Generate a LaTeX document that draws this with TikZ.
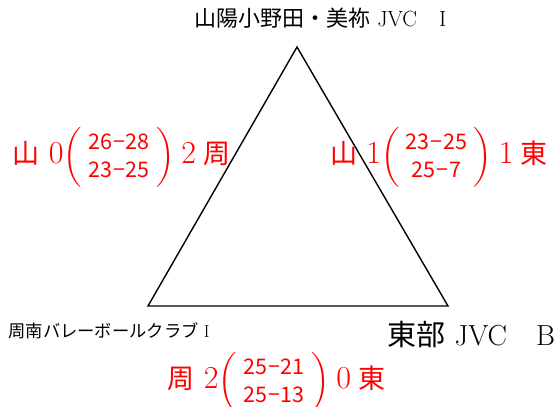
\documentclass[tikz,border=0pt]{standalone}
\usepackage{amsmath}
\usepackage{fontspec}
\newfontfamily\cjk{Noto Sans CJK JP}
\definecolor{scorered}{RGB}{255,0,0}
\tikzset{
  team/.style={inner sep=0pt, black},
  score/.style={inner sep=0pt, text=scorered},
  edge/.style={line width=1.4pt, line join=miter}
}
\newcommand{\dsh}{\kern1pt−\kern1pt}
\newcommand{\dg}[1]{{\fontsize{32}{32}\selectfont #1}}
\newcommand{\sets}[2]{{\fontsize{25}{25}\selectfont$\left(\vrule height20pt depth20pt width0pt\right.\kern1pt\vcenter{\hbox{\fontsize{21.5}{28}\cjk\begin{tabular}{@{}c@{}}#1\\#2\end{tabular}}}\kern1pt\left.\vrule height20pt depth20pt width0pt\right)$}}
\newcommand{\score}[6]{{\cjk #1}\hspace{9pt}\dg{#2}\hspace{0pt}\sets{#3}{#4}\hspace{7pt}\dg{#5}\hspace{7pt}{\cjk #6}}
\begin{document}
\begin{tikzpicture}[x=1pt,y=-1pt]
\useasboundingbox (0,0) rectangle (558,407);
\coordinate (t) at (297,47);
\coordinate (l) at (148,306);
\coordinate (r) at (448,306);
\draw[edge] (t) -- (l) -- (r) -- cycle;
\node[team, font=\fontsize{22}{23}\selectfont] (tt) at (320.5,18.5) {{\cjk 山陽小野田・美祢} JVC\quad I};
\node[team, font=\fontsize{17.3}{18}\selectfont] (tl) at (109,331) {{\cjk 周南バレーボールクラブ} I};
\node[team, font=\fontsize{29}{30}\selectfont] (tr) at (471.5,335) {{\cjk 東部} JVC\quad B};
\node[score, font=\fontsize{27}{28}\selectfont] (sl) at (121.5,157.5) {\score{山}{0}{26\dsh28}{23\dsh25}{2}{周}};
\node[score, font=\fontsize{27}{28}\selectfont] (sr) at (439,157.5) {\score{山}{1}{23\dsh25}{25\dsh7}{1}{東}};
\node[score, font=\fontsize{27}{28}\selectfont] (sb) at (276.5,382.5) {\score{周}{2}{25\dsh21}{25\dsh13}{0}{東}};
\end{tikzpicture}
\end{document}
